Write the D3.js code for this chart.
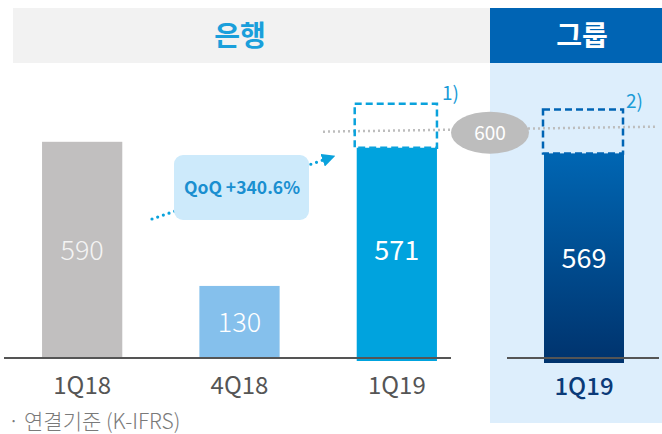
<!DOCTYPE html>
<html>
<head>
<meta charset="utf-8">
<script src="https://cdn.jsdelivr.net/npm/d3@7"></script>
<style>
  body { margin: 0; background: #fff; }
  svg text { font-family: "Noto Sans CJK KR", "Noto Sans", sans-serif; }
</style>
</head>
<body>
<div id="chart"></div>
<script>
// Data
//-------------------------------------------------------
var bankQuarters = ["1Q18", "4Q18", "1Q19"];
var bankValues = [590, 130, 571];
var groupQuarters = ["1Q19"];
var groupValues = [569];
var refValue = 600;
var qoqText = "QoQ +340.6%";

// SVG
//-------------------------------------------------------
var svgWidth = 662;
var svgHeight = 434;
var baseline = 358;

var svg = d3.select("#chart")
    .append("svg")
    .attr("width", svgWidth)
    .attr("height", svgHeight);

var defs = svg.append("defs");
var grad = defs.append("linearGradient")
    .attr("id", "groupGrad")
    .attr("x1", 0).attr("y1", 0).attr("x2", 0).attr("y2", 1);
grad.append("stop").attr("offset", "0%").attr("stop-color", "#0066b3");
grad.append("stop").attr("offset", "100%").attr("stop-color", "#00336d");

defs.append("marker")
    .attr("id", "arrow")
    .attr("viewBox", "0 0 10 10")
    .attr("refX", 5).attr("refY", 5)
    .attr("markerWidth", 4.2).attr("markerHeight", 4.2)
    .attr("markerUnits", "strokeWidth")
    .attr("orient", "auto")
    .append("path")
    .attr("d", "M0,0 L10,5 L0,10 Z")
    .attr("fill", "#0aa2dc");

// Panels
//-------------------------------------------------------
svg.append("rect").attr("x", 13).attr("y", 8).attr("width", 477).attr("height", 55).attr("fill", "#f2f2f2");
svg.append("rect").attr("x", 490).attr("y", 8).attr("width", 172).attr("height", 55).attr("fill", "#0064b4");
svg.append("rect").attr("x", 490).attr("y", 63).attr("width", 172).attr("height", 360).attr("fill", "#ddeefc");

svg.append("text").attr("x", 240).attr("y", 46).attr("text-anchor", "middle")
    .attr("font-size", 28).attr("font-weight", 700).attr("fill", "#1a9fdb").text("은행");
svg.append("text").attr("x", 582).attr("y", 46).attr("text-anchor", "middle")
    .attr("font-size", 28).attr("font-weight", 700).attr("fill", "#ffffff").text("그룹");

// Scales
//-------------------------------------------------------
var xBank = d3.scaleBand().domain(bankQuarters).range([3.5, 475.5])
    .paddingInner(0.49).paddingOuter(0.245);
var xGroup = d3.scaleBand().domain(groupQuarters).range([504, 664]).padding(1 / 3);

// not to scale in the source deck, small bars are lifted
var y = d3.scaleLinear().domain([-100, 650]).range([baseline, baseline - 235]);
var yGroup = d3.scaleLinear().domain([-100, 650]).range([baseline + 5, baseline - 230]);

var bankColors = ["#c1bfbf", "#85c0ec", "#00a3de"];

// Reference line 600
//-------------------------------------------------------
var refY = y(refValue) - 7;
svg.append("line")
    .attr("x1", 323).attr("y1", refY)
    .attr("x2", 655).attr("y2", refY - 5)
    .attr("stroke", "#bdbdbd").attr("stroke-width", 2.5)
    .attr("stroke-dasharray", "2 3");

// Bank bars
//-------------------------------------------------------
var bankData = bankQuarters.map((q, i) => ({ q: q, v: bankValues[i], c: bankColors[i] }));

svg.selectAll(".bank-bar").data(bankData).enter()
    .append("rect")
    .attr("class", "bank-bar")
    .attr("x", d => xBank(d.q))
    .attr("y", d => y(d.v))
    .attr("width", xBank.bandwidth())
    .attr("height", (d, i) => y(-100) - y(d.v) + (i === 2 ? 3 : 0))
    .attr("fill", d => d.c);

svg.selectAll(".bank-val").data(bankData).enter()
    .append("text")
    .attr("x", d => xBank(d.q) + xBank.bandwidth() / 2)
    .attr("y", (d, i) => i === 2 ? 260 : (y(d.v) + y(-100)) / 2 + 10)
    .attr("text-anchor", "middle")
    .attr("font-size", 27)
    .attr("font-weight", (d, i) => i === 2 ? 400 : 300)
    .attr("fill", (d, i) => i === 0 ? "#f4f4f4" : "#ffffff")
    .text(d => d.v);

// dashed box above latest bank bar
var last = bankData[2];
svg.append("rect")
    .attr("x", xBank(last.q) - 2).attr("y", y(last.v) - 44)
    .attr("width", xBank.bandwidth() + 2).attr("height", 44)
    .attr("fill", "none").attr("stroke", "#0aa2dc").attr("stroke-width", 2.5)
    .attr("stroke-dasharray", "7 4");
svg.append("text")
    .attr("x", xBank(last.q) + xBank.bandwidth() + 5).attr("y", y(last.v) - 48)
    .attr("font-size", 19).attr("fill", "#1a9bd7").text("1)");

// Group bar
//-------------------------------------------------------
var groupData = groupQuarters.map((q, i) => ({ q: q, v: groupValues[i] }));

svg.selectAll(".group-bar").data(groupData).enter()
    .append("rect")
    .attr("x", d => xGroup(d.q))
    .attr("y", d => yGroup(d.v))
    .attr("width", xGroup.bandwidth())
    .attr("height", d => yGroup(-100) - yGroup(d.v))
    .attr("fill", "url(#groupGrad)");

svg.selectAll(".group-val").data(groupData).enter()
    .append("text")
    .attr("x", d => xGroup(d.q) + xGroup.bandwidth() / 2)
    .attr("y", 268)
    .attr("text-anchor", "middle")
    .attr("font-size", 27).attr("font-weight", 400)
    .attr("fill", "#ffffff")
    .text(d => d.v);

var g0 = groupData[0];
svg.append("rect")
    .attr("x", xGroup(g0.q) - 1).attr("y", yGroup(g0.v) - 44)
    .attr("width", xGroup.bandwidth()).attr("height", 44)
    .attr("fill", "none").attr("stroke", "#0064b4").attr("stroke-width", 2.5)
    .attr("stroke-dasharray", "7 4");
svg.append("text")
    .attr("x", xGroup(g0.q) + xGroup.bandwidth() + 2).attr("y", yGroup(g0.v) - 45)
    .attr("font-size", 19).attr("fill", "#1a9bd7").text("2)");

// 600 bubble
//-------------------------------------------------------
svg.append("ellipse")
    .attr("cx", 490).attr("cy", refY + 1)
    .attr("rx", 39).attr("ry", 21)
    .attr("fill", "#bdbdbd");
svg.append("text")
    .attr("x", 490).attr("y", refY + 8)
    .attr("text-anchor", "middle")
    .attr("font-size", 19).attr("font-weight", 400)
    .attr("fill", "#ffffff").text(refValue);

// Axis lines
//-------------------------------------------------------
svg.append("line").attr("x1", 4).attr("x2", 451).attr("y1", baseline).attr("y2", baseline)
    .attr("stroke", "#555555").attr("stroke-width", 2);
svg.append("line").attr("x1", 507).attr("x2", 659).attr("y1", baseline).attr("y2", baseline)
    .attr("stroke", "#555555").attr("stroke-width", 2);

var xAxisBank = d3.axisBottom(xBank).tickSize(0).tickPadding(0);
var bankAxis = svg.append("g")
    .attr("transform", `translate(0, ${baseline + 19})`)
    .call(xAxisBank);
bankAxis.select(".domain").remove();
bankAxis.selectAll("text")
    .attr("font-size", 24).attr("font-weight", 400)
    .attr("fill", "#555555")
    .attr("font-family", "'Noto Sans CJK KR', sans-serif");

var xAxisGroup = d3.axisBottom(xGroup).tickSize(0).tickPadding(0);
var groupAxis = svg.append("g")
    .attr("transform", `translate(0, ${baseline + 20})`)
    .call(xAxisGroup);
groupAxis.select(".domain").remove();
groupAxis.selectAll("text")
    .attr("font-size", 24).attr("font-weight", 500)
    .attr("fill", "#0b3a78")
    .attr("font-family", "'Noto Sans CJK KR', sans-serif");

// QoQ callout
//-------------------------------------------------------
svg.append("line")
    .attr("x1", 152).attr("y1", 219)
    .attr("x2", 329).attr("y2", 158)
    .attr("stroke", "#0aa2dc").attr("stroke-width", 3.2)
    .attr("stroke-linecap", "round")
    .attr("stroke-dasharray", "0 6")
    .attr("marker-end", "url(#arrow)");

svg.append("rect")
    .attr("x", 174).attr("y", 155)
    .attr("width", 135).attr("height", 65)
    .attr("rx", 9)
    .attr("fill", "#cdeafb");
svg.append("text")
    .attr("x", 242).attr("y", 194)
    .attr("text-anchor", "middle")
    .attr("font-size", 17.5).attr("font-weight", 700)
    .attr("fill", "#1a8fd0").text(qoqText);

// Footnote
//-------------------------------------------------------
svg.append("text")
    .attr("x", 8).attr("y", 429)
    .attr("font-size", 21).attr("font-weight", 300)
    .attr("fill", "#7a7a7a").text("· 연결기준 (K-IFRS)");
</script>
</body>
</html>
